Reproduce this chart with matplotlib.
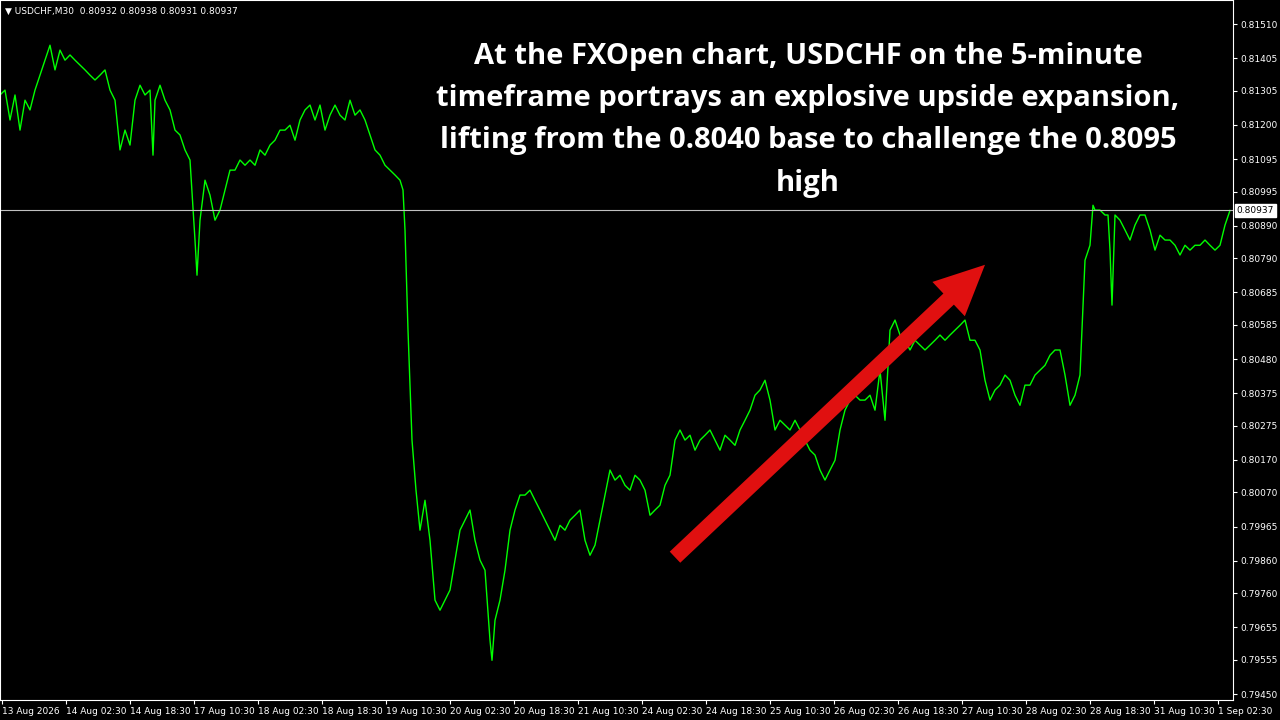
import matplotlib
matplotlib.use("Agg")
import matplotlib.pyplot as plt

px = [0,5,10,15,20,25,30,35,40,45,50,55,60,65,70,75,80,85,90,95,100,105,110,115,120,125,130,135,140,145,150,153,155,160,165,170,175,180,185,190,195,197,200,205,210,215,220,225,230,235,240,245,250,255,260,265,270,275,280,285,290,295,300,305,310,315,320,325,330,335,340,345,350,355,360,365,370,375,380,385,390,395,400,403,405,408,412,416,420,425,430,435,440,445,450,455,460,465,470,475,480,485,490,492,495,500,505,510,515,520,525,530,535,540,545,550,555,560,565,570,575,580,585,590,595,600,605,610,615,620,625,630,635,640,645,650,655,660,665,670,675,680,685,690,695,700,705,710,715,720,725,730,735,740,745,750,755,760,765,770,775,780,785,790,795,800,805,810,815,820,825,830,835,840,845,850,855,860,865,870,875,880,885,890,895,900,905,910,915,920,925,930,935,940,945,950,955,960,965,970,975,980,985,990,995,1000,1005,1010,1015,1020,1025,1030,1035,1040,1045,1050,1055,1060,1065,1070,1075,1080,1085,1090,1093,1095,1100,1105,1108,1110,1112,1115,1120,1125,1130,1135,1140,1145,1150,1155,1160,1165,1170,1175,1180,1185,1190,1195,1200,1205,1210,1215,1220,1225,1230]
bars = [p / 2 for p in px]
prices = [0.81292,0.81307,0.81215,0.81292,0.81184,0.81276,0.81246,0.81307,0.81353,0.81399,0.81445,0.81369,0.81430,0.81399,0.81415,0.81399,0.81384,0.81369,0.81353,0.81338,0.81353,0.81369,0.81307,0.81276,0.81123,0.81184,0.81138,0.81276,0.81322,0.81292,0.81307,0.81107,0.81276,0.81322,0.81276,0.81246,0.81184,0.81169,0.81123,0.81092,0.80846,0.80738,0.80907,0.81030,0.80984,0.80907,0.80938,0.81000,0.81061,0.81061,0.81092,0.81076,0.81092,0.81076,0.81123,0.81107,0.81138,0.81153,0.81184,0.81184,0.81199,0.81153,0.81215,0.81246,0.81261,0.81215,0.81261,0.81184,0.81230,0.81261,0.81230,0.81215,0.81276,0.81230,0.81246,0.81215,0.81169,0.81123,0.81107,0.81076,0.81061,0.81046,0.81030,0.81000,0.80877,0.80569,0.80231,0.80077,0.79954,0.80046,0.79923,0.79739,0.79708,0.79739,0.79770,0.79862,0.79954,0.79985,0.80016,0.79923,0.79862,0.79831,0.79616,0.79554,0.79677,0.79739,0.79831,0.79954,0.80016,0.80062,0.80062,0.80077,0.80046,0.80016,0.79985,0.79954,0.79923,0.79969,0.79954,0.79985,0.80000,0.80016,0.79923,0.79877,0.79908,0.79985,0.80062,0.80139,0.80108,0.80123,0.80092,0.80077,0.80123,0.80108,0.80077,0.80000,0.80016,0.80031,0.80092,0.80123,0.80231,0.80262,0.80231,0.80246,0.80200,0.80231,0.80246,0.80262,0.80231,0.80200,0.80246,0.80231,0.80215,0.80262,0.80292,0.80323,0.80369,0.80385,0.80415,0.80354,0.80262,0.80292,0.80277,0.80262,0.80292,0.80262,0.80231,0.80200,0.80185,0.80139,0.80108,0.80139,0.80169,0.80262,0.80323,0.80354,0.80369,0.80354,0.80354,0.80369,0.80323,0.80446,0.80292,0.80569,0.80600,0.80554,0.80538,0.80508,0.80538,0.80523,0.80508,0.80523,0.80538,0.80554,0.80538,0.80554,0.80569,0.80584,0.80600,0.80538,0.80538,0.80508,0.80415,0.80354,0.80385,0.80400,0.80431,0.80415,0.80369,0.80338,0.80400,0.80400,0.80431,0.80446,0.80461,0.80492,0.80508,0.80508,0.80431,0.80338,0.80369,0.80431,0.80784,0.80830,0.80953,0.80938,0.80938,0.80923,0.80923,0.80815,0.80646,0.80923,0.80907,0.80877,0.80846,0.80892,0.80923,0.80923,0.80877,0.80815,0.80861,0.80846,0.80846,0.80830,0.80800,0.80830,0.80815,0.80830,0.80830,0.80846,0.80830,0.80815,0.80830,0.80892,0.80937]

yticks = [0.81510,0.81405,0.81305,0.81200,0.81095,0.80995,0.80890,0.80790,0.80685,0.80585,0.80480,0.80375,0.80275,0.80170,0.80070,0.79965,0.79860,0.79760,0.79655,0.79555,0.79450]
xtick_labels = ["13 Aug 2026","14 Aug 02:30","14 Aug 18:30","17 Aug 10:30","18 Aug 02:30","18 Aug 18:30","19 Aug 10:30","20 Aug 02:30","20 Aug 18:30","21 Aug 10:30","24 Aug 02:30","24 Aug 18:30","25 Aug 10:30","26 Aug 02:30","26 Aug 18:30","27 Aug 10:30","28 Aug 02:30","28 Aug 18:30","31 Aug 10:30","1 Sep 02:30"]
xtick_bars = [1 + 32 * i for i in range(len(xtick_labels))]
last_price = 0.80937

fig = plt.figure(figsize=(12.8, 7.2), dpi=100, facecolor="black")
ax = fig.add_axes([0, 20/720, 1233/1280, 700/720], facecolor="black")
ax.plot(bars, prices, color="#00ff00", lw=1)
ax.set_xlim(0, 616.5)
ax.set_ylim(0.79432, 0.81584)
ax.axhline(last_price, color="#c0c0c0", lw=0.8)
ax.yaxis.tick_right()
ax.set_yticks(yticks)
ax.set_yticklabels([f"{v:.5f}" for v in yticks])
ax.set_xticks(xtick_bars)
ax.set_xticklabels(xtick_labels, ha="left")
ax.tick_params(colors="white", labelsize=6.5, length=3, pad=2)
for s in ax.spines.values():
    s.set_color("white")
ax.text(1.003, (last_price-0.79432)/(0.81584-0.79432), f"{last_price:.5f}", transform=ax.transAxes,
        fontsize=6.5, color="black", va="center", ha="left",
        bbox=dict(facecolor="white", edgecolor="white", pad=1.5))
ax.text(0.004, 0.99, "▼ USDCHF,M30  0.80932 0.80938 0.80931 0.80937", transform=ax.transAxes,
        fontsize=6.5, color="white", va="top", ha="left")
ax.text(808/1233, 1 - 42/700, "At the FXOpen chart, USDCHF on the 5-minute\ntimeframe portrays an explosive upside expansion,\nlifting from the 0.8040 base to challenge the 0.8095\nhigh",
        transform=ax.transAxes, fontsize=21, fontweight="bold", color="white",
        ha="center", va="top", linespacing=1.6, family="Open Sans")
ax.annotate("", xy=(492.5, 0.80770), xytext=(337.5, 0.79871),
            arrowprops=dict(facecolor="#e01010", edgecolor="none", width=11, headwidth=34, headlength=36))
fig.savefig("out.png", dpi=100, facecolor="black")
